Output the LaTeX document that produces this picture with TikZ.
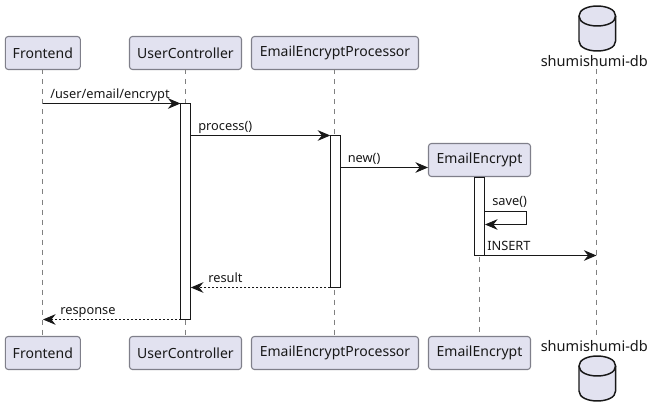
\documentclass[tikz,border=0pt]{standalone}
\usepackage{fontspec}
\setmainfont{Noto Sans}
\usetikzlibrary{arrows.meta,positioning}
\definecolor{partfill}{HTML}{E2E2F0}
\definecolor{partline}{HTML}{7F7F8A}
\definecolor{ink}{HTML}{181818}
\definecolor{lifeline}{HTML}{808080}
\tikzset{
  px/.style={x=0.75pt,y=-0.75pt},
  part/.style={draw=partline,line width=0.8pt,fill=partfill,rounded corners=2.2pt,minimum height=24.75pt,inner sep=0pt,outer sep=0pt,text=ink,font=\fontsize{10.5}{12}\selectfont,anchor=center},
  life/.style={draw=lifeline,line width=0.6pt,dash pattern=on 3.75pt off 3.75pt},
  act/.style={draw=ink,line width=0.75pt,fill=white,inner sep=0pt,outer sep=0pt,minimum width=7.5pt},
  msgarrow/.style={draw=ink,line width=0.75pt,-{Stealth[length=9.5pt,width=8pt,inset=3.2pt,fill=ink]}},
  retarrow/.style={msgarrow,dash pattern=on 1.5pt off 1.5pt},
  lbl/.style={inner sep=0pt,text=ink,anchor=base west,font=\fontsize{9.6}{12}\selectfont},
  dbl/.style={inner sep=0pt,text=ink,anchor=base,font=\fontsize{10.9}{12}\selectfont},
  dbshape/.style={draw=ink,line width=1.1pt,fill=partfill}
}
\newcommand{\dbcyl}[2]{%
  \path[dbshape] (#1-18.3,#2+11) .. controls (#1-18.3,#2-2.3) and (#1+18.3,#2-2.3) .. (#1+18.3,#2+11)
    -- (#1+18.3,#2+36) .. controls (#1+18.3,#2+49.3) and (#1-18.3,#2+49.3) .. (#1-18.3,#2+36) -- cycle;
  \path[draw=ink,line width=1.1pt] (#1-18.3,#2+11) .. controls (#1-18.3,#2+24.3) and (#1+18.3,#2+24.3) .. (#1+18.3,#2+11);
}
\begin{document}
\begin{tikzpicture}[px]
\useasboundingbox (0,0) rectangle (653,417);
% top and bottom participants
\node[part,minimum width=56.25pt] (ft) at (42.8,53) {Frontend};
\node[part,minimum width=84pt] (ut) at (185.5,53) {UserController};
\node[part,minimum width=125.25pt] (pt) at (335,53) {EmailEncryptProcessor};
\node[part,minimum width=56.25pt] (fb) at (42.8,353) {Frontend};
\node[part,minimum width=84pt] (ub) at (185.5,353) {UserController};
\node[part,minimum width=125.25pt] (pb) at (335,353) {EmailEncryptProcessor};
\node[part,minimum width=76.5pt] (eb) at (479.5,353) {EmailEncrypt};
\node[part,minimum width=76.5pt] (et) at (479.5,160) {EmailEncrypt};
% database
\dbcyl{597.3}{5}
\dbcyl{597.3}{355}
\node[dbl] (dt) at (594.3,66.8) {shumishumi-db};
\node[dbl] (db) at (594.3,351) {shumishumi-db};
% lifeline ends
\coordinate (dtl) at (596.5,69.5);
\coordinate (dbb) at (596.5,336.5);
\coordinate (ftl) at (42.5,69.5);
\coordinate (fbl) at (42.5,336.5);
\coordinate (ptl) at (334.5,69.5);
\coordinate (pbl) at (334.5,336.5);
% lifelines
\draw[life] (ftl) -- (fbl);
\draw[life] (ut.south) -- (ub.north);
\draw[life] (ptl) -- (pbl);
\draw[life] (et.south) -- (eb.north);
\draw[life] (dtl) -- (dbb);
% activations
\node[act,minimum height=162pt] (au) at (185.5,211.5) {};
\node[act,minimum height=114pt] (ap) at (335.3,211.5) {};
\node[act,minimum height=58.5pt] (ae) at (479.5,216.5) {};
% free ends of messages
\coordinate (m1s) at (42.5,103.5);
\coordinate (m2s) at (190.5,135.5);
\coordinate (m3s) at (340.3,167.5);
\coordinate (m3e) at (428,167.5);
\coordinate (m4a) at (484.5,211.5);
\coordinate (m4b) at (526.5,211.5);
\coordinate (m4c) at (526.5,224.5);
\coordinate (m4d) at (485,224.5);
\coordinate (m5e) at (596.5,255.5);
\coordinate (m6e) at (190.8,287.5);
\coordinate (m7e) at (43,319.5);
% messages
\draw[msgarrow] (m1s) -- (au.north west);
\draw[msgarrow] (m2s) -- (ap.north west);
\draw[msgarrow] (m3s) -- (m3e);
\draw[msgarrow] (m4a) -- (m4b) -- (m4c) -- (m4d);
\draw[msgarrow] (ae.south east) -- (m5e);
\draw[retarrow] (ap.south west) -- (m6e);
\draw[retarrow] (au.south west) -- (m7e);
% labels
\node[lbl] (l1) at (50,98.5) {/user/email/encrypt};
\node[lbl] (l2) at (198,130.5) {process()};
\node[lbl] (l3) at (347.5,162.5) {new()};
\node[lbl] (l4) at (492,205.5) {save()};
\node[lbl] (l5) at (487,250) {INSERT};
\node[lbl] (l6) at (208,282) {result};
\node[lbl] (l7) at (60,314) {response};
\end{tikzpicture}
\end{document}
